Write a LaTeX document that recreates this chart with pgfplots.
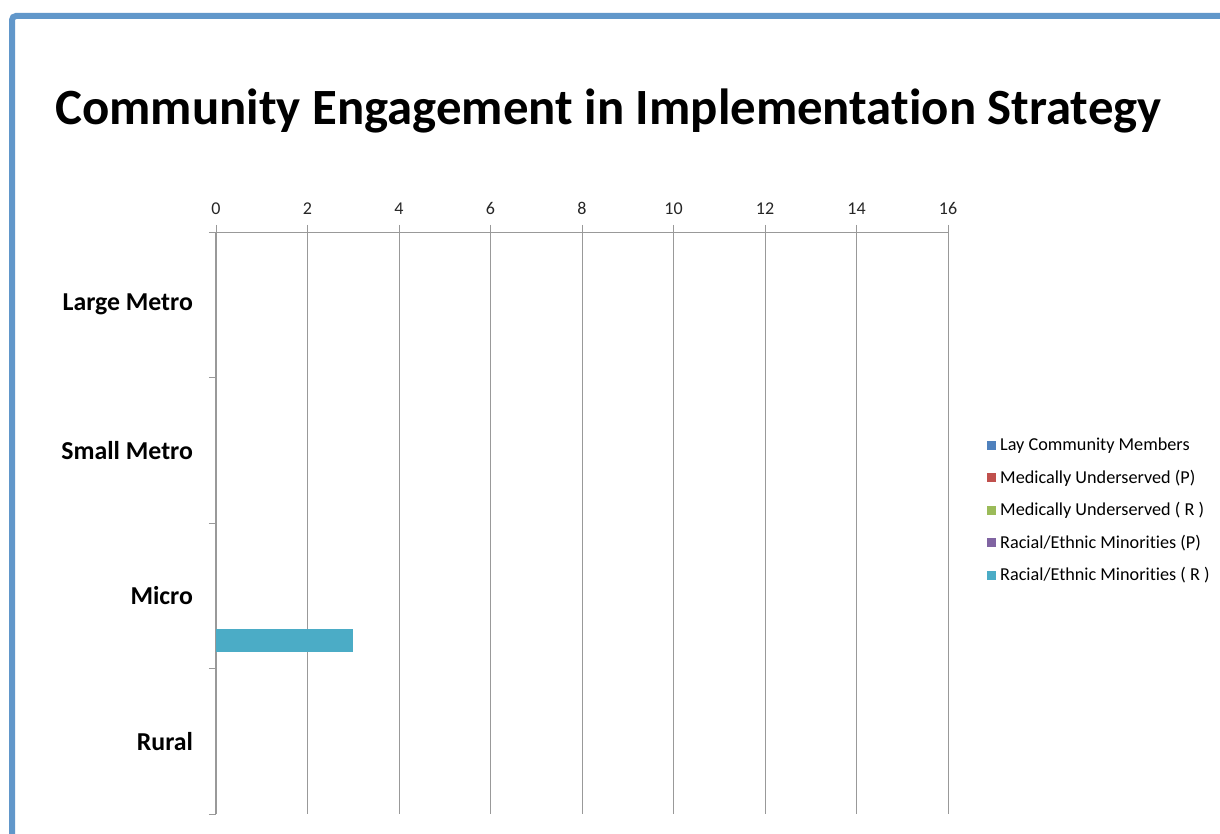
\documentclass[border=0pt]{standalone}
\usepackage{fontspec}
\setmainfont{Carlito}[Ligatures=NoCommon]
\usepackage{pgfplots}
\pgfplotsset{compat=1.18}

\definecolor{slideblue}{HTML}{6197CA}
\definecolor{s1}{HTML}{4F81BD}
\definecolor{s2}{HTML}{C0504D}
\definecolor{s3}{HTML}{9BBB59}
\definecolor{s4}{HTML}{8064A2}
\definecolor{s5}{HTML}{4BACC6}

\begin{document}
\begin{tikzpicture}
\useasboundingbox (0,0) rectangle (610pt,417pt);
\clip (0,0) rectangle (610pt,417pt);
\fill[white] (0,0) rectangle (610pt,417pt);
\draw[slideblue, line width=3pt, rounded corners=2pt] (640pt,409pt) -- (6pt,409pt) -- (6pt,-20pt);

\node[anchor=base west, inner sep=0pt, font=\bfseries\fontsize{25.4}{30}\selectfont]
  at (27.5pt,354.5pt) {Community Engagement in Implementation Strategy};

\begin{axis}[
    at={(108pt,10pt)}, anchor=south west,
    scale only axis,
    width=366pt, height=291pt,
    xbar,
    xmin=0, xmax=16,
    ymin=-0.5, ymax=3.5,
    axis x line*=top,
    axis y line*=left,
    axis line style={-, gray!80},
    xtick={0,2,...,16},
    tick align=outside,
    major tick length=3.5pt,
    tick style={gray!80},
    xmajorgrids,
    grid style={gray!80, line width=0.5pt},
    ticklabel style={font=\fontsize{9}{10}\selectfont, text=black!85},
    xticklabel style={yshift=1.5pt},
    /pgf/number format/assume math mode=true,
    ytick={-0.5,0.5,1.5,2.5,3.5},
    yticklabels={},
    extra y ticks={0,1,2,3},
    extra y tick labels={Rural,Micro,Small Metro,Large Metro},
    extra y tick style={tick style={draw=none},
        yticklabel style={font=\bfseries\fontsize{12.9}{14}\selectfont, text=black, xshift=-4.5pt}},
    bar width=0.1538,
    % zero-length bars are left out, as in the original
    x filter/.expression={x==0 ? nan : x},
    legend style={at={(1.053,0.521)}, anchor=west, draw=none, fill=none,
        font=\fontsize{9.1}{10}\selectfont, row sep=4.1pt, inner sep=0pt,
        legend cell align=left},
    legend image code/.code={\fill[#1, draw=none] (0pt,-2.25pt) rectangle (4.5pt,2.25pt);},
]
\addlegendimage{fill=s1, draw=none}\addlegendentry{Lay Community Members}
\addlegendimage{fill=s2, draw=none}\addlegendentry{Medically Underserved (P)}
\addlegendimage{fill=s3, draw=none}\addlegendentry{Medically Underserved ( R )}
\addlegendimage{fill=s4, draw=none}\addlegendentry{Racial/Ethnic Minorities (P)}
\addlegendimage{fill=s5, draw=none}\addlegendentry{Racial/Ethnic Minorities ( R )}

\addplot[forget plot, fill=s1, draw=none, bar shift=0.3077] coordinates {(0,0) (0,1) (0,2) (0,3)};
\addplot[forget plot, fill=s2, draw=none, bar shift=0.1538] coordinates {(0,0) (0,1) (0,2) (0,3)};
\addplot[forget plot, fill=s3, draw=none, bar shift=0] coordinates {(0,0) (0,1) (0,2) (0,3)};
\addplot[forget plot, fill=s4, draw=none, bar shift=-0.1538] coordinates {(0,0) (0,1) (0,2) (0,3)};
\addplot[forget plot, fill=s5, draw=none, bar shift=-0.3077] coordinates {(0,0) (3,1) (0,2) (0,3)};
\end{axis}
\end{tikzpicture}
\end{document}
